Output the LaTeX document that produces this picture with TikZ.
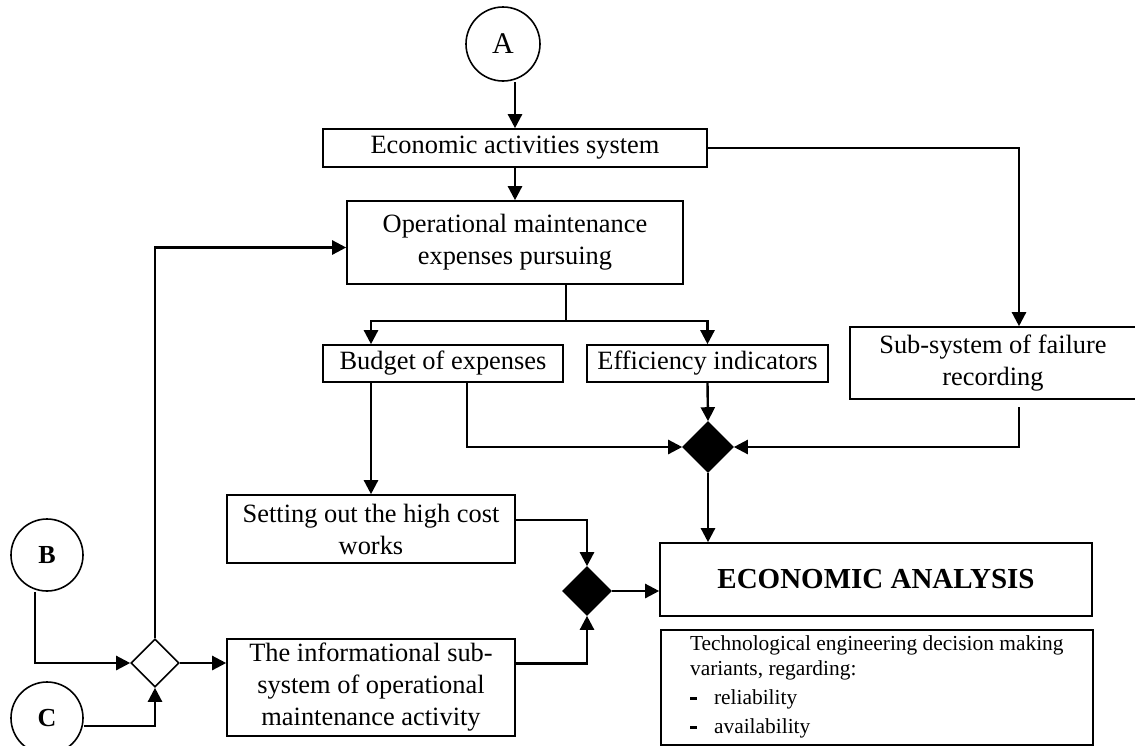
\documentclass[tikz,border=0pt]{standalone}
\usepackage{fontspec}
\setmainfont{Liberation Serif}
\usepackage{tikz}
\usetikzlibrary{shapes.geometric, arrows.meta}
\tikzstyle{term} = [circle, draw=black, line width=0.8pt, minimum size=36pt, inner sep=0pt]
\tikzstyle{process} = [rectangle, draw=black, line width=0.8pt, align=center, inner sep=0pt]
\tikzstyle{merge} = [diamond, aspect=1, draw=black, line width=0.8pt, minimum size=24pt, inner sep=0pt]
\tikzstyle{arrow} = [line width=1.2pt, -{Triangle[length=7pt, width=7pt]}]
\tikzstyle{link} = [line width=1.2pt]
\newcommand{\dashitem}{\makebox[12pt][l]{\rule[0.22em]{0.32em}{0.13em}}}

\begin{document}
\begin{tikzpicture}[x=0.5pt, y=-0.5pt, font=\fontsize{13.2}{16}\selectfont]
\useasboundingbox (0,0) rectangle (1135,745);
\node (A) [term, minimum size=37pt, font=\fontsize{15}{18}\selectfont] at (503,44) {A};
\node (B) [term, font=\fontsize{13}{15}\selectfont\bfseries] at (47,555) {B};
\node (C) [term, font=\fontsize{13}{15}\selectfont\bfseries] at (47,718) {C};
\node (econsys) [process, minimum width=192pt, minimum height=19pt] at (515,148) {Economic activities system};
\node (opex) [process, minimum width=168pt, minimum height=41.5pt] at (515,242.5) {Operational maintenance\\expenses pursuing};
\node (budget) [process, minimum width=120pt, minimum height=18.5pt] at (443,363.5) {Budget of expenses};
\node (effic) [process, minimum width=120.5pt, minimum height=18.5pt] at (707.5,363.5) {Efficiency indicators};
\node (failure) [process, minimum width=143pt, minimum height=36pt] at (993,363) {Sub-system of failure\\recording};
\node (highcost) [process, minimum width=144pt, minimum height=34pt] at (371,529) {Setting out the high cost\\works};
\node (infosys) [process, minimum width=144pt, minimum height=48.5pt] at (371,687.5) {The informational sub-\\system of operational\\maintenance activity};
\node (analysis) [process, minimum width=216pt, minimum height=36.5pt, font=\fontsize{14.5}{17}\selectfont\bfseries] at (876,579.5) {ECONOMIC ANALYSIS};
\node (decision) [process, anchor=north west, minimum width=216pt, minimum height=57.5pt, align=left, font=\fontsize{10.7}{12.5}\selectfont] at (660,629) {Technological engineering decision making\\variants, regarding:\\[2pt]\dashitem reliability\\[2pt]\dashitem availability};
\node (dia1) [merge, fill=black, minimum size=25pt] at (708,447) {};
\node (dia2) [merge, fill=black] at (587,591) {};
\node (dia3) [merge] at (155,663) {};
\coordinate (split) at (566,321);
\coordinate (fr) at (1019,153);
\coordinate (frb) at (1019,407);
\coordinate (bx) at (467,447);
\draw [arrow] (A.south -| econsys.north) -- (econsys.north);
\draw [arrow] (econsys.south) -- (opex.north);
\draw [arrow] (econsys.east) -| (fr |- failure.north);
\draw [link] (opex.south -| split) -- (split);
\draw [arrow] (split) -| (highcost.north |- budget.north);
\draw [arrow] (split) -| (effic.north);
\draw [arrow] (budget.south -| highcost.north) -- (highcost.north);
\draw [arrow] (bx |- budget.south) |- (dia1.west);
\draw [arrow] (effic.south) -- (dia1.north);
\draw [arrow] (frb) |- (dia1.east);
\draw [arrow] (dia1.south) -- (dia1.south |- analysis.north);
\draw [arrow] ([yshift=4.5pt]highcost.east) -| (dia2.north);
\draw [arrow] ([yshift=12pt]infosys.east) -| (dia2.south);
\draw [arrow] (dia2.east) -- (dia2.east -| analysis.west);
\draw [arrow] ([xshift=-6pt]B.south) |- (dia3.west);
\draw [arrow] ([yshift=-4pt]C.east) -| (dia3.south);
\draw [arrow] (dia3.east) -- (dia3.east -| infosys.west);
\draw [arrow] (dia3.north) |- ([yshift=-2.5pt]opex.west);
\end{tikzpicture}
\end{document}
